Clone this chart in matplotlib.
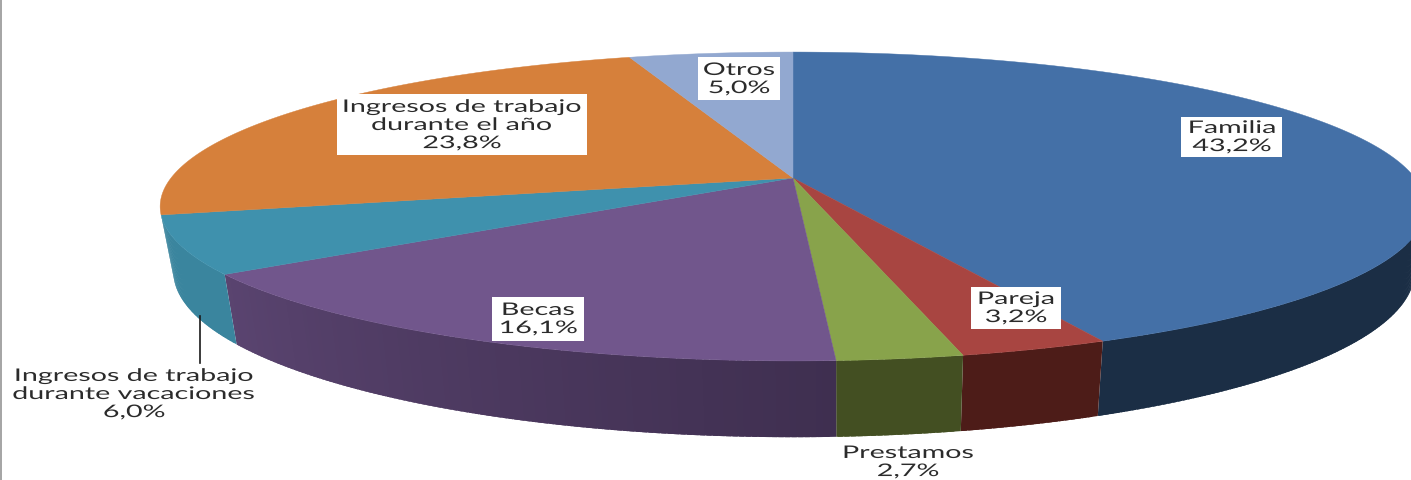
import matplotlib
matplotlib.use('Agg')
import matplotlib.pyplot as plt
import matplotlib.patheffects as pe
from matplotlib.patches import Rectangle
from matplotlib.transforms import Affine2D
import numpy as np

# datos del grafico (en %), sentido horario desde arriba
nombres = ['Familia', 'Pareja', 'Prestamos', 'Becas',
           'Ingresos de trabajo\ndurante vacaciones',
           'Ingresos de trabajo\ndurante el año', 'Otros']
valores = [43.2, 3.2, 2.7, 16.1, 6.0, 23.8, 5.0]
textos = ['43,2%', '3,2%', '2,7%', '16,1%', '6,0%', '23,8%', '5,0%']

color_top = ['#4470A7', '#A84541', '#88A34B', '#71568C', '#3F91AD', '#D6803B', '#92A8D0']
color_lado1 = ['#1B2E45', '#4D1C18', '#434F22', '#3F2F50', '#3A859E', '#D6803B', '#92A8D0']
color_lado2 = ['#1B2E45', '#4D1C18', '#434F22', '#5A4470', '#3A859E', '#D6803B', '#92A8D0']

# centro de cada etiqueta y su caja blanca (x0, y0, x1, y1), None = sin caja
etiqueta_xy = [(1232, 137), (1016, 308), (908, 462), (538, 319), (134, 394), (462, 125), (739, 79)]
cajas = [(1181, 117, 1282, 157), (971, 287, 1061, 329), None, (492, 297, 584, 341),
         None, (337, 94, 587, 155), (698, 57, 780, 100)]

PERSP = 0.1845
ESTIRA = 1.65


class Estirar(pe.AbstractPathEffect):
    # ensancha el texto alrededor de su centro, como en la imagen original
    def __init__(self, cx, sx):
        super().__init__()
        self.cx = cx
        self.sx = sx

    def draw_path(self, renderer, gc, tpath, affine, rgbFace=None):
        t = Affine2D().translate(-self.cx, 0).scale(self.sx, 1).translate(self.cx, 0)
        renderer.draw_path(gc, tpath, affine + t, rgbFace)


def borde(t, cx, cy, b, a):
    # punto del borde del disco con perspectiva, t en grados
    X = np.sin(np.radians(t))
    Y = np.cos(np.radians(t))
    d = 1 + PERSP * Y
    return cx + b * X / d, cy - a * Y / d


def arriba(t):
    return borde(t, 793, 178, 622, 149.2)


def abajo(t):
    return borde(t, 794, 241, 610, 160)


fig = plt.figure(figsize=(14.11, 4.8), dpi=100)
ax = fig.add_axes([0, 0, 1, 1])
ax.set_xlim(0, 1411)
ax.set_ylim(480, 0)
ax.axis('off')

ax.add_patch(Rectangle((0, 0), 2, 480, color='#A6A6A6', lw=0))

limites = np.concatenate([[0], np.cumsum(valores)]) * 3.6

# lados del disco
for i in range(len(valores)):
    t0 = max(limites[i], 90)
    t1 = min(limites[i + 1], 256.3)
    if t1 <= t0:
        continue
    pasos = max(int((t1 - t0) * 2), 1)
    ts = np.linspace(t0, t1, pasos + 1)
    c1 = np.array(matplotlib.colors.to_rgb(color_lado1[i]))
    c2 = np.array(matplotlib.colors.to_rgb(color_lado2[i]))
    for j in range(pasos):
        # cada tira pisa un poco la siguiente para que no queden rayas
        tt = np.linspace(ts[j], min(ts[j + 1] + 0.4, t1), 4)
        xa, ya = arriba(tt)
        xb, yb = abajo(tt[::-1])
        c = c1 + (c2 - c1) * j / pasos
        ax.fill(np.concatenate([xa, xb]), np.concatenate([ya, yb]), color=c, lw=0)

# cara superior
for i in range(len(valores)):
    tt = np.linspace(limites[i], limites[i + 1], 200)
    xs, ys = arriba(tt)
    ax.fill(np.concatenate([[793], xs]), np.concatenate([[178], ys]), color=color_top[i], lw=0.3)

# linea guia de ingresos vacaciones
ax.plot([200, 200], [316, 363], color='#1A1A1A', lw=1.2)

for i in range(len(valores)):
    if cajas[i] is not None:
        x0, y0, x1, y1 = cajas[i]
        ax.add_patch(Rectangle((x0, y0), x1 - x0, y1 - y0, color='white', lw=0, zorder=3))
    x, y = etiqueta_xy[i]
    cx = ax.transData.transform((x, y))[0]
    tx = ax.text(x, y, nombres[i] + '\n' + textos[i], ha='center', va='center', multialignment='center',
                 fontsize=12.5, family='Lato', color='#2B2B2B', linespacing=1.16, zorder=4)
    tx.set_path_effects([Estirar(cx, ESTIRA)])

fig.savefig('out.png', dpi=100, facecolor='white')
